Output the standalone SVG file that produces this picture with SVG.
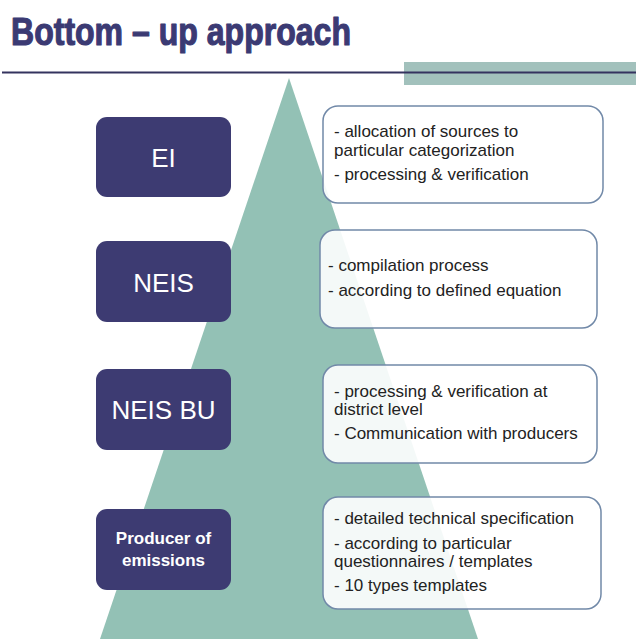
<svg xmlns="http://www.w3.org/2000/svg" width="636" height="639" viewBox="0 0 636 639">
<style>
.lb{fill:#3d3b72;}
.lt{fill:#ffffff;font-family:"Liberation Sans",Arial,sans-serif;font-size:26px;text-anchor:middle;}
.lts{fill:#ffffff;font-family:"Liberation Sans",Arial,sans-serif;font-size:17px;font-weight:bold;text-anchor:middle;}
.rb{fill:#ffffff;fill-opacity:0.9;stroke:#7189a8;stroke-width:1.5;}
.rt{fill:#222222;font-family:"Liberation Sans",Arial,sans-serif;font-size:17px;}
</style>
<rect x="0" y="0" width="636" height="639" fill="#ffffff"/>
<g id="background">
<text x="11" y="45" font-family="'Liberation Sans',Arial,sans-serif" font-weight="bold" font-size="39" fill="#3b3a73" stroke="#3b3a73" stroke-width="1.2" stroke-linejoin="round" textLength="340" lengthAdjust="spacingAndGlyphs">Bottom – up approach</text>
<rect x="404" y="62" width="232" height="23" fill="#a2c1bc"/>
<line x1="2" y1="72.5" x2="636" y2="72.5" stroke="#34335f" stroke-width="2.2"/>
<polygon points="289,78 100,639 478,639" fill="#93c1b5"/>
</g>
<g id="EI"><rect class="lb" x="96" y="117" width="135" height="80" rx="11"/><text class="lt" x="163.5" y="167">EI</text></g>
<g id="NEIS"><rect class="lb" x="96" y="241" width="135" height="81" rx="11"/><text class="lt" x="163.5" y="292">NEIS</text></g>
<g id="NEIS_BU"><rect class="lb" x="96" y="369" width="135" height="81" rx="11"/><text class="lt" x="163.5" y="419">NEIS BU</text></g>
<g id="Producer"><rect class="lb" x="96" y="509" width="135" height="81" rx="11"/><text class="lts" x="163.5" y="544">Producer of</text><text class="lts" x="163.5" y="566">emissions</text></g>
<g id="desc_EI"><rect class="rb" x="323" y="106" width="280" height="97" rx="15"/>
<text class="rt" x="334" y="136.5">- allocation of sources to</text>
<text class="rt" x="334" y="155.5">particular categorization</text>
<text class="rt" x="334" y="180">- processing &amp; verification</text></g>
<g id="desc_NEIS"><rect class="rb" x="320" y="230" width="277" height="98" rx="15"/>
<text class="rt" x="328" y="271">- compilation process</text>
<text class="rt" x="328" y="296">- according to defined equation</text></g>
<g id="desc_NEIS_BU"><rect class="rb" x="323" y="365" width="274" height="98" rx="15"/>
<text class="rt" x="334" y="396.5">- processing &amp; verification at</text>
<text class="rt" x="334" y="414.5">district level</text>
<text class="rt" x="334" y="439">- Communication with producers</text></g>
<g id="desc_Producer"><rect class="rb" x="323" y="497" width="278" height="112" rx="15"/>
<text class="rt" x="334" y="524">- detailed technical specification</text>
<text class="rt" x="334" y="548.5">- according to particular</text>
<text class="rt" x="334" y="566.5">questionnaires / templates</text>
<text class="rt" x="334" y="591">- 10 types templates</text></g>
<g id="connectors"/>
</svg>
